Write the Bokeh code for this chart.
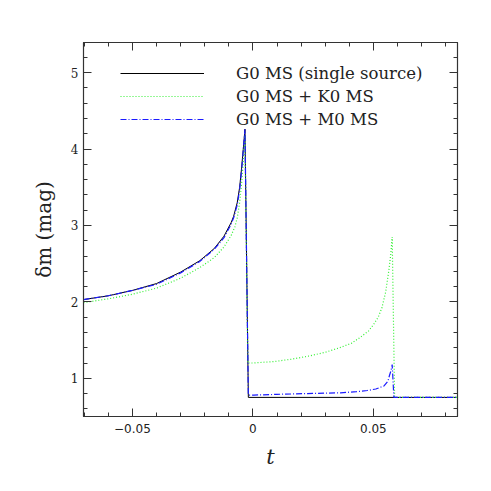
from bokeh.plotting import figure
from bokeh.models import FixedTicker, LinearAxis, Legend, LegendItem, Range1d, CustomJSTickFormatter
from bokeh.embed import file_html
from bokeh.resources import INLINE

# --- data ---
t_single = [-0.0703, -0.060, -0.050, -0.040, -0.030, -0.022, -0.016, -0.012, -0.009,
            -0.0080, -0.0065, -0.0055, -0.0047, -0.0040, -0.0033, -0.0019, 0.085]
dm_single = [2.03, 2.08, 2.15, 2.24, 2.39, 2.54, 2.70, 2.86, 3.04,
             3.12, 3.30, 3.50, 3.75, 4.00, 4.26, 0.75, 0.75]

t_k0 = [-0.0703, -0.060, -0.050, -0.040, -0.030, -0.022, -0.016, -0.012, -0.009,
        -0.0075, -0.0065, -0.0055, -0.0047, -0.0040, -0.0033, -0.0021, 0.000, 0.009,
        0.016, 0.023, 0.030, 0.036, 0.041, 0.0447, 0.048, 0.0502, 0.052, 0.0535,
        0.0551, 0.0564, 0.0572, 0.0578, 0.0588, 0.085]
dm_k0 = [1.99, 2.04, 2.10, 2.18, 2.31, 2.45, 2.58, 2.72, 2.87,
         2.98, 3.10, 3.30, 3.55, 3.85, 4.18, 1.20, 1.20, 1.22,
         1.25, 1.29, 1.34, 1.40, 1.46, 1.54, 1.62, 1.71, 1.80, 1.92,
         2.13, 2.41, 2.62, 2.85, 0.75, 0.75]

t_m0 = [-0.0703, -0.060, -0.050, -0.040, -0.030, -0.022, -0.016, -0.012, -0.009,
        -0.0080, -0.0065, -0.0055, -0.0047, -0.0040, -0.0033, -0.0019, 0.0004, 0.010,
        0.0226, 0.0364, 0.0430, 0.0475, 0.051, 0.0544, 0.0560, 0.0567, 0.0573,
        0.0578, 0.0585, 0.085]
dm_m0 = [2.03, 2.08, 2.15, 2.23, 2.38, 2.53, 2.69, 2.84, 3.02,
         3.10, 3.27, 3.47, 3.72, 3.98, 4.26, 0.78, 0.78, 0.79,
         0.80, 0.81, 0.825, 0.84, 0.86, 0.90, 0.96, 1.04, 1.10,
         1.18, 0.75, 0.75]

x_major = [-0.05, 0.0, 0.05]
x_labels = {-0.05: "\u22120.05", 0.0: "0", 0.05: "0.05"}
x_minor = [-0.07, -0.06, -0.04, -0.03, -0.02, -0.01, 0.01, 0.02, 0.03, 0.04, 0.06, 0.07, 0.08]
y_major = [1, 2, 3, 4, 5]
y_minor = [0.6, 0.8, 1.2, 1.4, 1.6, 1.8, 2.2, 2.4, 2.6, 2.8, 3.2, 3.4, 3.6, 3.8,
           4.2, 4.4, 4.6, 4.8, 5.2, 5.4]

labels = ["G0 MS (single source)", "G0 MS + K0 MS", "G0 MS + M0 MS"]

p = figure(width=487, height=476, x_range=Range1d(-0.0703, 0.0849), y_range=Range1d(0.5, 5.395),
           output_backend="svg", toolbar_location=None,
           min_border_left=83, min_border_right=30, min_border_top=42, min_border_bottom=60)
p.xgrid.visible = False
p.ygrid.visible = False
p.outline_line_color = "#333333"
p.outline_line_width = 1.2
p.background_fill_color = "white"
p.border_fill_color = "white"

xt = FixedTicker(ticks=x_major, minor_ticks=x_minor)
yt = FixedTicker(ticks=y_major, minor_ticks=y_minor)

def style(ax, show_labels=True):
    ax.major_tick_in = 8
    ax.major_tick_out = 0
    ax.minor_tick_in = 4
    ax.minor_tick_out = 0
    ax.axis_line_color = "#333333"
    ax.major_tick_line_color = "#333333"
    ax.minor_tick_line_color = "#333333"
    if not show_labels:
        ax.formatter = CustomJSTickFormatter(code="return ''")
        ax.major_label_standoff = 0

xa = p.xaxis[0]
xa.ticker = xt
xa.major_label_overrides = x_labels
style(xa)
xa.major_label_text_font = "DejaVu Sans"
xa.major_label_text_font_size = "12px"
xa.major_label_text_color = "#222222"
xa.major_label_standoff = 7
xa.axis_label = "t"
xa.axis_label_text_font = "DejaVu Serif"
xa.axis_label_text_font_style = "italic"
xa.axis_label_text_font_size = "21px"
xa.axis_label_text_color = "#222222"
xa.axis_label_standoff = 9

ya = p.yaxis[0]
ya.ticker = yt
style(ya)
ya.major_label_text_font = "DejaVu Serif"
ya.major_label_text_font_size = "12px"
ya.major_label_text_color = "#222222"
ya.major_label_standoff = 5
ya.axis_label = "\u03b4m (mag)"
ya.axis_label_text_font = "DejaVu Serif"
ya.axis_label_text_font_style = "normal"
ya.axis_label_text_font_size = "20px"
ya.axis_label_text_color = "#222222"
ya.axis_label_standoff = 12

top = LinearAxis(ticker=xt)
style(top, False)
p.add_layout(top, "above")
right = LinearAxis(ticker=yt)
style(right, False)
p.add_layout(right, "right")

r1 = p.line(t_single, dm_single, line_color="black", line_width=1)
r2 = p.line(t_k0, dm_k0, line_color="#33f033", line_width=1.2, line_dash="1 2")
r3 = p.line(t_m0, dm_m0, line_color="#1a1aff", line_width=1.2, line_dash="6 2 1 2")

legend = Legend(items=[LegendItem(label=labels[0], renderers=[r1]),
                       LegendItem(label=labels[1], renderers=[r2]),
                       LegendItem(label=labels[2], renderers=[r3])],
                location=(37, 287))
legend.label_text_font = "DejaVu Serif"
legend.label_text_font_size = "16.5px"
legend.label_text_color = "#222222"
legend.glyph_width = 84
legend.glyph_height = 20
legend.label_height = 20
legend.label_standoff = 32
legend.spacing = 3
legend.padding = 0
legend.margin = 0
legend.border_line_color = None
legend.background_fill_alpha = 0
p.add_layout(legend)

open("out.html", "w").write(file_html(p, INLINE))
